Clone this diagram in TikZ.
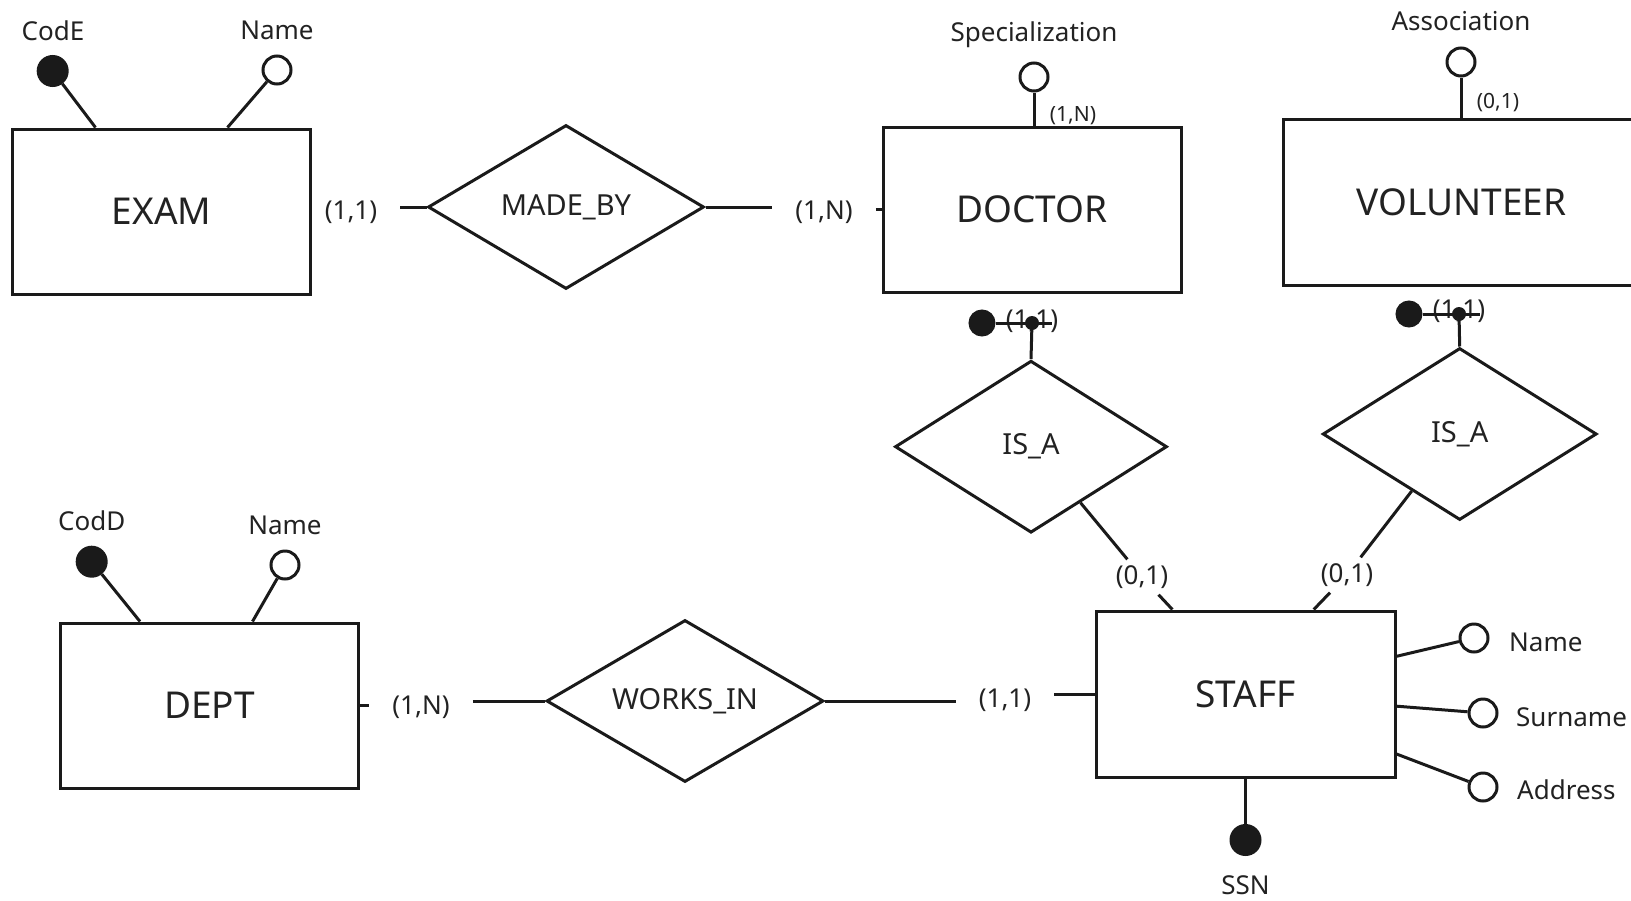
\documentclass[tikz,border=0pt]{standalone}
\usepackage{fontspec}
\setmainfont{Noto Sans}
\usetikzlibrary{shapes.geometric,calc}
\definecolor{linec}{HTML}{1A1A1A}
\definecolor{txt}{HTML}{222222}

\begin{document}
\begin{tikzpicture}[x=1pt,y=-1pt,
  conn/.style={draw=linec, line width=3pt},
  entity/.style={conn, rectangle, minimum width=298pt, minimum height=165pt, inner sep=0pt,
    font=\fontsize{37}{44}\selectfont, text=txt},
  relation/.style={conn, diamond, aspect=1.7, minimum width=276pt, minimum height=164pt, inner sep=0pt,
    font=\fontsize{29}{34}\selectfont, text=txt},
  keyattr/.style={conn, circle, fill=linec, minimum size=29pt, inner sep=0pt},
  attr/.style={conn, circle, fill=white, minimum size=28pt, inner sep=0pt},
  joindot/.style={circle, fill=linec, minimum size=14pt, inner sep=0pt},
  lbl/.style={font=\fontsize{26}{31}\selectfont, text=txt, inner sep=0pt},
  card/.style={font=\fontsize{26}{31}\selectfont, text=txt, inner xsep=23pt, inner ysep=6pt},
  smallcard/.style={font=\fontsize{21}{25}\selectfont, text=txt, inner sep=0pt}
]
\useasboundingbox (0,0) rectangle (1631,900);
\clip (0,0) rectangle (1631,900);

% entities
\node[entity] (exam) at (161.5,211.5) {EXAM};
\node[entity] (doctor) at (1032,209.5) {DOCTOR};
\node[entity, minimum width=357pt, minimum height=166pt] (volunteer) at (1461.5,202) {VOLUNTEER};
\node[entity] (dept) at (209.5,705.5) {DEPT};
\node[entity, minimum width=299pt, minimum height=166pt] (staff) at (1245.5,694) {STAFF};

% relationships
\node[relation] (madeby) at (566,207) {MADE\_BY};
\node[relation, minimum width=277pt, minimum height=162pt] (worksin) at (685,701) {WORKS\_IN};
\node[relation, minimum width=272pt, minimum height=172pt] (isa1) at (1031,446.7) {IS\_A};
\node[relation, minimum width=274pt, minimum height=172pt] (isa2) at (1459.7,434) {IS\_A};

% EXAM attributes
\node[keyattr] (code) at (52.7,71) {};
\node[attr] (examname) at (277,70) {};
\node[lbl] (codelbl) at (53,31) {CodE};
\node[lbl] (examnamelbl) at (277,30) {Name};
\draw[conn] (code) -- ($(exam.north west)+(84.5,0)$);
\draw[conn] (examname) -- ($(exam.north west)+(216.5,0)$);

% DEPT attributes
\node[keyattr] (codd) at (91.7,561.7) {};
\node[attr] (deptname) at (285,565) {};
\node[lbl] (coddlbl) at (91.7,520.5) {CodD};
\node[lbl] (deptnamelbl) at (285,525) {Name};
\draw[conn] (codd) -- ($(dept.north west)+(81,0)$);
\draw[conn] (deptname) -- ($(dept.north west)+(193.5,0)$);

% DOCTOR attribute
\node[attr] (spec) at (1034,77) {};
\node[lbl] (speclbl) at (1034,35) {Specialization};
\node[smallcard] (speccard) at (1073,116) {(1,N)};
\draw[conn] (spec) -- (spec |- doctor.north);

% VOLUNTEER attribute
\node[attr] (assoc) at (1461,62) {};
\node[lbl] (assoclbl) at (1461,21) {Association};
\node[smallcard] (assoccard) at (1498,103) {(0,1)};
\draw[conn] (assoc) -- (assoc |- volunteer.north);

% STAFF attributes
\node[attr] (sname) at (1474,638) {};
\node[attr] (ssurname) at (1483,713) {};
\node[attr] (saddress) at (1483,787) {};
\node[lbl, anchor=west] (snamelbl) at (1509,642) {Name};
\node[lbl, anchor=west] (ssurnamelbl) at (1516,717) {Surname};
\node[lbl, anchor=west] (saddresslbl) at (1517,790) {Address};
\draw[conn] ($(staff.north east)!0.277!(staff.south east)$) -- (sname);
\draw[conn] ($(staff.north east)!0.572!(staff.south east)$) -- (ssurname);
\draw[conn] ($(staff.north east)!0.855!(staff.south east)$) -- (saddress);
\node[keyattr] (ssn) at (1245.5,840) {};
\node[lbl] (ssnlbl) at (1245.5,885) {SSN};
\draw[conn] (staff.south) -- (ssn);

% MADE_BY links
\node[card] (c1) at (351,212) {(1,1)};
\node[card] (c2) at (824,212) {(1,N)};
\draw[conn] (madeby.west) -- (madeby.west -| c1.east);
\draw[conn] (madeby.east) -- (madeby.east -| c2.west);
\draw[conn] (c2.east |- doctor.west) -- (doctor.west);

% WORKS_IN links
\node[card] (c3) at (421,707) {(1,N)};
\node[card] (c4) at (1005,700) {(1,1)};
\draw[conn] (dept.east) -- (dept.east -| c3.west);
\draw[conn] (c3.east |- worksin.west) -- (worksin.west);
\draw[conn] (worksin.east) -- (worksin.east -| c4.west);
\draw[conn] (c4.east |- staff.west) -- (staff.west);

% generalisation of STAFF into DOCTOR
\node[keyattr, minimum size=24pt] (docid) at (982,323) {};
\node[joindot] (docjoin) at (1032,323) {};
\coordinate (docidend) at (1052,323);
\node[lbl] (doccard) at (1032,321) {(1,1)};
\draw[conn] (docid) -- (docidend);
\draw[conn] (docjoin.center) -- (isa1.north);
\coordinate (isa1foot) at ($(isa1.east)!0.64!(isa1.south)$);
\node[card] (c5) at (1142,577) {(0,1)};
\draw[conn] (isa1foot) -- (c5);
\draw[conn] (c5) -- ($(staff.north west)!0.258!(staff.north east)$);

% generalisation of STAFF into VOLUNTEER
\node[keyattr, minimum size=24pt] (volid) at (1409,314) {};
\node[joindot] (voljoin) at (1459,314) {};
\coordinate (volidend) at (1480,314);
\node[lbl] (volcard) at (1459,311) {(1,1)};
\draw[conn] (volid) -- (volidend);
\draw[conn] (voljoin.center) -- (isa2.north);
\coordinate (isa2foot) at ($(isa2.west)!0.653!(isa2.south)$);
\node[card] (c6) at (1347,575) {(0,1)};
\draw[conn] (isa2foot) -- (c6);
\draw[conn] (c6) -- ($(staff.north west)!0.726!(staff.north east)$);
\end{tikzpicture}
\end{document}
